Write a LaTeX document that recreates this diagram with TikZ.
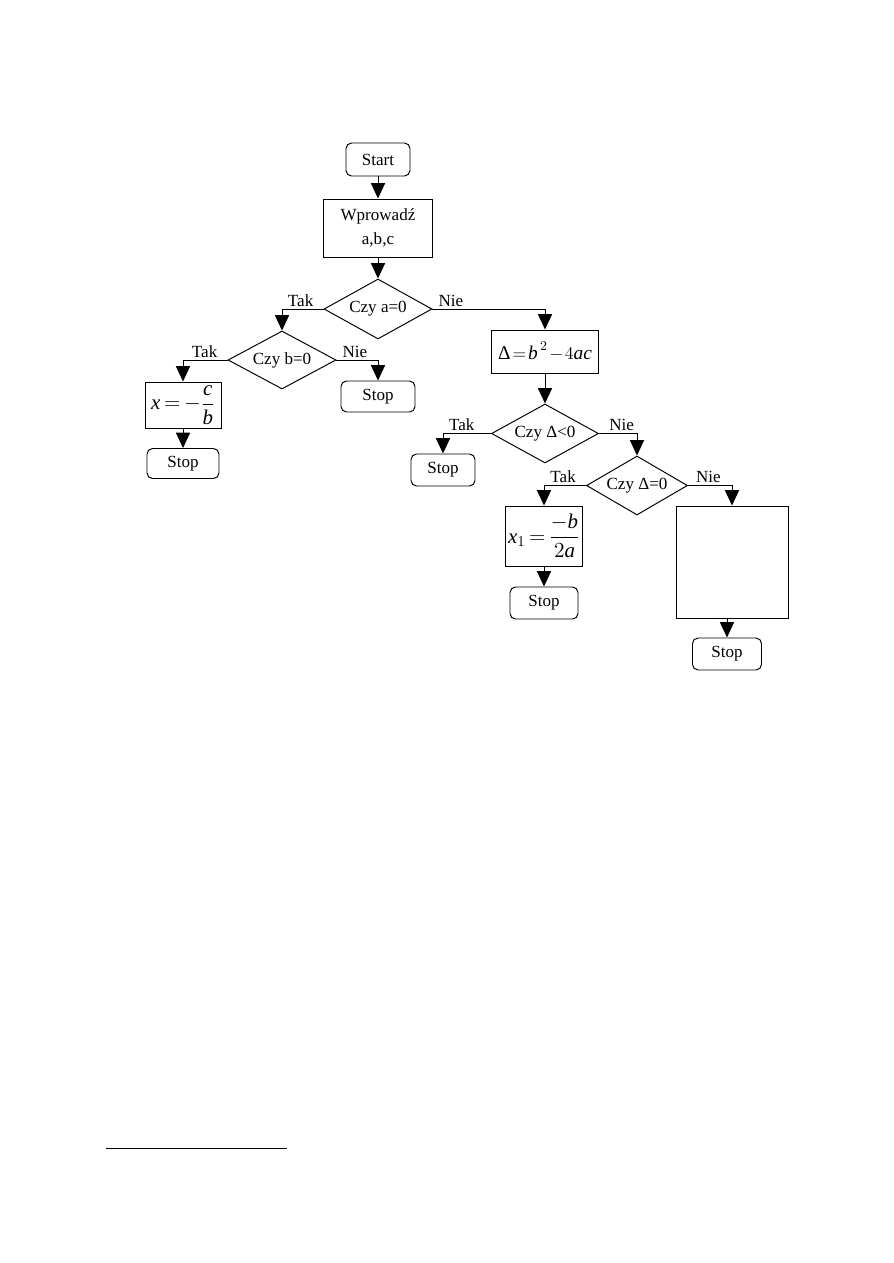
\documentclass[tikz,border=0pt]{standalone}
\usepackage{fontspec}
\setmainfont{Liberation Serif}
\usetikzlibrary{shapes.geometric,arrows.meta}

\newlength{\pixlen}
\setlength{\pixlen}{0.2352mm}
\newcommand{\formula}{\fontsize{14}{16}\selectfont\thickmuskip=3mu\medmuskip=2mu}

\begin{document}
\begin{tikzpicture}[x=\pixlen, y=-\pixlen, line width=0.65pt,
    every node/.style={font=\fontsize{11.4}{13}\selectfont},
    boxsize/.style 2 args={minimum width=#1*\pixlen, minimum height=#2*\pixlen},
    process/.style={draw, rectangle, inner sep=0pt, align=center},
    terminal/.style={draw, rectangle, rounded corners=1.3mm, inner sep=0pt},
    decision/.style={draw, diamond, inner sep=0pt, aspect=1.8},
    flow/.style={-{Triangle[length=3.6mm, width=3.3mm]}},
    yes/.style={anchor=base east, inner sep=0pt, xshift=-2.3mm, yshift=0.6mm},
    no/.style={anchor=base west, inner sep=0pt, xshift=1.3mm, yshift=0.6mm}]

    % Page size
    \useasboundingbox (0,0) rectangle (893,1263);

    % Start and input
    \node[terminal, boxsize={64}{33}] (start) at (378,159.5) {Start};
    \node[process, boxsize={109}{58}, font=\fontsize{11.4}{16.5}\selectfont]
        (input) at (378,228) {Wprowadź\\a,b,c};

    % Test a=0
    \node[decision, boxsize={108}{60}] (testa) at (378,309) {Czy a=0};

    % Branch a=0
    \node[decision, boxsize={108}{58}] (testb) at (282,360) {Czy b=0};
    \node[process, boxsize={76}{46}] (linear) at (183,405)
        {\formula $\displaystyle \textit{x}=-\frac{\textit{c}}{\textit{b}}$};
    \node[terminal, boxsize={72}{30}] (stopa) at (183,463.5) {Stop};
    \node[terminal, boxsize={74}{31}] (stopb) at (378,396.5) {Stop};

    % Branch a<>0
    \node[process, boxsize={107}{43}] (delta) at (545,351.5)
        {\formula\fontsize{13}{15}\selectfont\thickmuskip=2mu\medmuskip=1.5mu
         $\textrm{Δ}=\textit{b}^{\,2}-4\textit{ac}$};
    \node[decision, boxsize={107}{59}] (testneg) at (545,433.5) {Czy Δ<0};
    \node[terminal, boxsize={64}{32}] (stopc) at (443,470) {Stop};
    \node[decision, boxsize={101}{59}] (testzero) at (637,485.5) {Czy Δ=0};
    \node[process, boxsize={77}{60}] (double) at (544,536)
        {\formula $\textit{x}_{1}=\displaystyle\frac{-\textit{b}}{2\textit{a}}$};
    \node[terminal, boxsize={68}{32}] (stopd) at (544,603) {Stop};
    \node[process, boxsize={112}{112}] (tworoots) at (732,562) {};
    \node[terminal, boxsize={69}{32}] (stope) at (727,654) {Stop};

    % Draw connectors
    \draw[flow] (start) -- (input);
    \draw[flow] (input) -- (testa);
    \draw[flow] (testa.west) -| (testb.north);
    \draw[flow] (testa.east) -| (delta.north);
    \draw[flow] (testb.west) -| (linear.north);
    \draw[flow] (testb.east) -| (stopb.north);
    \draw[flow] (linear) -- (stopa);
    \draw[flow] (delta) -- (testneg);
    \draw[flow] (testneg.west) -| (stopc.north);
    \draw[flow] (testneg.east) -| (testzero.north);
    \draw[flow] (testzero.west) -| (double.north);
    \draw[flow] (testzero.east) -| (tworoots.north);
    \draw[flow] (double) -- (stopd);
    \draw[flow] (stope.north |- tworoots.south) -- (stope.north);

    % Label branches
    \node[yes] (taka) at (testa.west) {Tak};
    \node[no] (niea) at (testa.east) {Nie};
    \node[yes] (takb) at (testb.west) {Tak};
    \node[no] (nieb) at (testb.east) {Nie};
    \node[yes, xshift=-1.5mm] (takneg) at (testneg.west) {Tak};
    \node[no, xshift=1mm] (nieneg) at (testneg.east) {Nie};
    \node[yes] (takzero) at (testzero.west) {Tak};
    \node[no, xshift=0.5mm] (niezero) at (testzero.east) {Nie};

    % Footnote rule
    \draw (106,1148) -- (287,1148);

\end{tikzpicture}
\end{document}
